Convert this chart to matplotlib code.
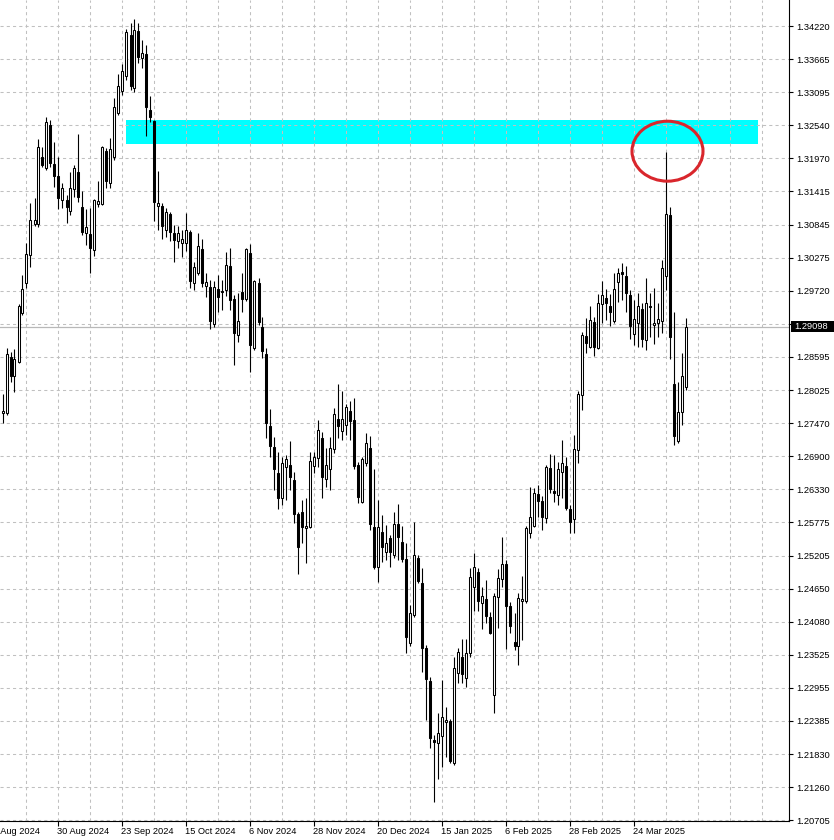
import numpy as np
import matplotlib
matplotlib.use('Agg')
import matplotlib.pyplot as plt
from matplotlib.patches import Ellipse, Rectangle
import matplotlib.transforms as mtransforms

# daily GBPUSD-style candles (12 Aug 2024 .. 10 Apr 2025)
opens = [1.2764, 1.2764, 1.2859, 1.2827, 1.2850, 1.2934, 1.2985, 1.3032, 1.3085, 1.3085,
         1.3199, 1.3180, 1.3254, 1.3187, 1.3167, 1.3126, 1.3126, 1.3107, 1.3145, 1.3174,
         1.3114, 1.3070, 1.3068, 1.3041, 1.3119, 1.3119, 1.3209, 1.3155, 1.3199, 1.3274,
         1.3311, 1.3337, 1.3407, 1.3317, 1.3414, 1.3368, 1.3374, 1.3279, 1.3260, 1.3116,
         1.3116, 1.3075, 1.3102, 1.3070, 1.3056, 1.3053, 1.3053, 1.3072, 1.2985, 1.3002,
         1.3043, 1.2980, 1.2978, 1.2915, 1.2975, 1.2971, 1.2973, 1.3014, 1.2958, 1.2896,
         1.2969, 1.2958, 1.3036, 1.2874, 1.2985, 1.2910, 1.2864, 1.2741, 1.2706, 1.2661,
         1.2619, 1.2672, 1.2675, 1.2650, 1.2592, 1.2595, 1.2568, 1.2570, 1.2673, 1.2687,
         1.2721, 1.2651, 1.2668, 1.2702, 1.2753, 1.2733, 1.2743, 1.2767, 1.2752, 1.2675,
         1.2612, 1.2678, 1.2704, 1.2570, 1.2502, 1.2561, 1.2527, 1.2551, 1.2522, 1.2575,
         1.2544, 1.2515, 1.2372, 1.2420, 1.2517, 1.2474, 1.2364, 1.2307, 1.2207, 1.2202,
         1.2214, 1.2238, 1.2239, 1.2168, 1.2321, 1.2348, 1.2313, 1.2355, 1.2467, 1.2493,
         1.2440, 1.2447, 1.2416, 1.2284, 1.2450, 1.2481, 1.2507, 1.2435, 1.2374, 1.2367,
         1.2444, 1.2444, 1.2559, 1.2571, 1.2626, 1.2614, 1.2585, 1.2670, 1.2631, 1.2624,
         1.2663, 1.2673, 1.2600, 1.2583, 1.2701, 1.2794, 1.2895, 1.2876, 1.2918, 1.2874,
         1.2949, 1.2959, 1.2946, 1.2920, 1.2986, 1.3003, 1.2997, 1.2964, 1.2898, 1.2917,
         1.2941, 1.2888, 1.2946, 1.2913, 1.2917, 1.2920, 1.2997, 1.3100, 1.2813, 1.2716,
         1.2765, 1.2808]
highs = [1.2796, 1.2874, 1.2867, 1.2872, 1.2949, 1.2998, 1.3053, 1.3121, 1.3129, 1.3230,
         1.3216, 1.3267, 1.3262, 1.3225, 1.3199, 1.3155, 1.3135, 1.3174, 1.3186, 1.3238,
         1.3141, 1.3111, 1.3112, 1.3128, 1.3158, 1.3218, 1.3215, 1.3232, 1.3300, 1.3340,
         1.3357, 1.3417, 1.3427, 1.3434, 1.3427, 1.3398, 1.3390, 1.3303, 1.3262, 1.3175,
         1.3121, 1.3112, 1.3106, 1.3083, 1.3082, 1.3075, 1.3104, 1.3075, 1.3021, 1.3070,
         1.3060, 1.3002, 1.2990, 1.2988, 1.2998, 1.2990, 1.3038, 1.3044, 1.2964, 1.2968,
         1.3002, 1.3044, 1.3051, 1.2990, 1.2993, 1.2927, 1.2874, 1.2770, 1.2723, 1.2697,
         1.2689, 1.2692, 1.2716, 1.2663, 1.2595, 1.2616, 1.2619, 1.2697, 1.2697, 1.2752,
         1.2731, 1.2704, 1.2723, 1.2772, 1.2813, 1.2801, 1.2779, 1.2784, 1.2789, 1.2680,
         1.2689, 1.2730, 1.2724, 1.2668, 1.2616, 1.2590, 1.2573, 1.2556, 1.2595, 1.2609,
         1.2571, 1.2542, 1.2437, 1.2578, 1.2522, 1.2500, 1.2369, 1.2314, 1.2216, 1.2253,
         1.2309, 1.2263, 1.2243, 1.2348, 1.2364, 1.2379, 1.2379, 1.2500, 1.2525, 1.2500,
         1.2467, 1.2479, 1.2425, 1.2457, 1.2498, 1.2553, 1.2513, 1.2442, 1.2423, 1.2457,
         1.2486, 1.2571, 1.2638, 1.2636, 1.2641, 1.2622, 1.2675, 1.2694, 1.2692, 1.2680,
         1.2718, 1.2689, 1.2607, 1.2726, 1.2801, 1.2901, 1.2925, 1.2946, 1.2927, 1.2966,
         1.2988, 1.2975, 1.2966, 1.3002, 1.3010, 1.3019, 1.3014, 1.2973, 1.2956, 1.2968,
         1.2951, 1.2993, 1.2968, 1.2976, 1.2951, 1.3024, 1.3208, 1.3114, 1.2935, 1.2816,
         1.2866, 1.2925]
lows = [1.2747, 1.2760, 1.2816, 1.2799, 1.2849, 1.2930, 1.2976, 1.3012, 1.3082, 1.3080,
        1.3182, 1.3177, 1.3182, 1.3148, 1.3111, 1.3112, 1.3087, 1.3100, 1.3131, 1.3123,
        1.3066, 1.3049, 1.3002, 1.3031, 1.3114, 1.3118, 1.3146, 1.3146, 1.3194, 1.3271,
        1.3305, 1.3330, 1.3313, 1.3310, 1.3359, 1.3351, 1.3235, 1.3259, 1.3090, 1.3075,
        1.3060, 1.3063, 1.3056, 1.3021, 1.3044, 1.3029, 1.3039, 1.2976, 1.2973, 1.2998,
        1.2978, 1.2961, 1.2907, 1.2910, 1.2935, 1.2939, 1.2963, 1.2939, 1.2845, 1.2884,
        1.2935, 1.2954, 1.2833, 1.2871, 1.2913, 1.2857, 1.2721, 1.2689, 1.2633, 1.2600,
        1.2607, 1.2616, 1.2633, 1.2576, 1.2490, 1.2542, 1.2508, 1.2568, 1.2661, 1.2672,
        1.2619, 1.2638, 1.2633, 1.2695, 1.2721, 1.2718, 1.2726, 1.2718, 1.2668, 1.2610,
        1.2610, 1.2673, 1.2564, 1.2498, 1.2476, 1.2510, 1.2513, 1.2502, 1.2517, 1.2513,
        1.2510, 1.2355, 1.2367, 1.2416, 1.2474, 1.2323, 1.2241, 1.2193, 1.2101, 1.2141,
        1.2161, 1.2178, 1.2168, 1.2164, 1.2304, 1.2304, 1.2297, 1.2348, 1.2427, 1.2427,
        1.2396, 1.2406, 1.2387, 1.2253, 1.2398, 1.2467, 1.2362, 1.2389, 1.2360, 1.2335,
        1.2377, 1.2440, 1.2551, 1.2570, 1.2587, 1.2564, 1.2576, 1.2627, 1.2612, 1.2607,
        1.2619, 1.2598, 1.2559, 1.2559, 1.2678, 1.2769, 1.2866, 1.2874, 1.2861, 1.2872,
        1.2917, 1.2922, 1.2912, 1.2917, 1.2952, 1.2956, 1.2935, 1.2889, 1.2879, 1.2876,
        1.2876, 1.2871, 1.2893, 1.2881, 1.2893, 1.2900, 1.2973, 1.2855, 1.2709, 1.2712,
        1.2743, 1.2803]
closes = [1.2767, 1.2864, 1.2827, 1.2855, 1.2946, 1.2975, 1.3034, 1.3092, 1.3092, 1.3216,
          1.3186, 1.3259, 1.3189, 1.3167, 1.3129, 1.3146, 1.3114, 1.3146, 1.3180, 1.3131,
          1.3072, 1.3080, 1.3044, 1.3126, 1.3124, 1.3216, 1.3158, 1.3213, 1.3284, 1.3320,
          1.3346, 1.3412, 1.3320, 1.3415, 1.3369, 1.3376, 1.3284, 1.3267, 1.3123, 1.3121,
          1.3082, 1.3106, 1.3072, 1.3058, 1.3070, 1.3060, 1.3075, 1.2988, 1.3012, 1.3048,
          1.2985, 1.2986, 1.2920, 1.2978, 1.2961, 1.2969, 1.3015, 1.2956, 1.2900, 1.2920,
          1.2958, 1.3043, 1.2879, 1.2988, 1.2918, 1.2869, 1.2747, 1.2707, 1.2668, 1.2619,
          1.2678, 1.2685, 1.2655, 1.2592, 1.2536, 1.2570, 1.2571, 1.2682, 1.2689, 1.2735,
          1.2655, 1.2675, 1.2704, 1.2762, 1.2741, 1.2753, 1.2774, 1.2750, 1.2673, 1.2621,
          1.2685, 1.2713, 1.2575, 1.2502, 1.2570, 1.2536, 1.2542, 1.2527, 1.2575, 1.2553,
          1.2515, 1.2382, 1.2423, 1.2522, 1.2478, 1.2364, 1.2311, 1.2210, 1.2204, 1.2219,
          1.2246, 1.2241, 1.2171, 1.2330, 1.2357, 1.2319, 1.2355, 1.2484, 1.2502, 1.2444,
          1.2452, 1.2418, 1.2389, 1.2452, 1.2483, 1.2507, 1.2435, 1.2401, 1.2367, 1.2449,
          1.2447, 1.2568, 1.2587, 1.2627, 1.2614, 1.2587, 1.2672, 1.2634, 1.2627, 1.2668,
          1.2678, 1.2602, 1.2578, 1.2702, 1.2796, 1.2896, 1.2883, 1.2922, 1.2876, 1.2951,
          1.2964, 1.2951, 1.2935, 1.2975, 1.3002, 1.3000, 1.2968, 1.2912, 1.2924, 1.2946,
          1.2889, 1.2951, 1.2944, 1.2917, 1.2924, 1.3010, 1.3102, 1.2893, 1.2724, 1.2765,
          1.2827, 1.2910]

# bar index of each date label (first one is cut off at the left edge)
date_idx = [-2, 14, 30, 46, 62, 78, 94, 110, 126, 142, 158]
date_labels = ['8 Aug 2024', '30 Aug 2024', '23 Sep 2024', '15 Oct 2024', '6 Nov 2024',
               '28 Nov 2024', '20 Dec 2024', '15 Jan 2025', '6 Feb 2025', '28 Feb 2025',
               '24 Mar 2025']
price_labels = ['1.20705', '1.21260', '1.21830', '1.22385', '1.22955', '1.23525', '1.24080',
                '1.24650', '1.25205', '1.25775', '1.26330', '1.26900', '1.27470', '1.28025',
                '1.28595', '1.29150', '1.29720', '1.30275', '1.30845', '1.31415', '1.31970',
                '1.32540', '1.33095', '1.33665', '1.34220']
last_price = 1.29098
zone_bars = (30.9, 188.9)
zone_prices = (1.32213, 1.32621)
circle_center = (166.25, 1.3209)

W, H = 834, 840
fig = plt.figure(figsize=(W / 100, H / 100), dpi=100)
fig.patch.set_facecolor('white')
ax = fig.add_axes([0, 19 / H, 789 / W, 821 / H])
ax.set_xlim(-0.625, 196.625)
ax.set_ylim(1.20692, 1.34663)

for s in ['left', 'top']:
    ax.spines[s].set_visible(False)
for s in ['right', 'bottom']:
    ax.spines[s].set_color('black')
    ax.spines[s].set_linewidth(0.8)

# grid
ytick_pos = np.linspace(1.20705, 1.34220, len(price_labels))
for y in ytick_pos:
    ax.axhline(y, color='#c0c0c0', lw=0.75, ls=(0, (3, 3)), zorder=0.8)
for i in range(6, 197, 8):
    ax.axvline(i, color='#c0c0c0', lw=0.75, ls=(0, (3, 3)), zorder=0.8)

ax.axhline(last_price, color='#b8b8b8', lw=0.9, zorder=0.9)

# resistance zone
ax.add_patch(Rectangle((zone_bars[0], zone_prices[0]), zone_bars[1] - zone_bars[0],
                       zone_prices[1] - zone_prices[0], facecolor='#00ffff',
                       edgecolor='none', zorder=0.5))

# candles
o = np.array(opens)
h = np.array(highs)
l = np.array(lows)
c = np.array(closes)
x = np.arange(len(o))
bull = c >= o
ax.vlines(x, l, h, color='black', lw=0.8, zorder=2)
ax.bar(x, np.abs(c - o), bottom=np.minimum(o, c), width=0.5,
       color=np.where(bull, 'white', 'black'), edgecolor='black', linewidth=0.75, zorder=3)

ax.add_patch(Ellipse(circle_center, 17.75, 0.0102, fill=False, edgecolor='#d9262c',
                     lw=2.2, zorder=5))

# axes ticks and labels
ax.yaxis.tick_right()
ax.set_yticks(ytick_pos)
ax.set_yticklabels(price_labels, fontsize=6.7, family='Liberation Sans')
ax.tick_params(axis='y', direction='out', length=3, width=0.8, pad=2)
ax.set_xticks(date_idx[1:])
ax.set_xticklabels([])
ax.tick_params(axis='x', direction='out', length=3.5, width=0.8)
for idx, lab in zip(date_idx, date_labels):
    ax.text(idx - 0.3, -0.0125, lab, transform=ax.get_xaxis_transform(), ha='left',
            va='center', fontsize=6.7, family='Liberation Sans', clip_on=False)

# current price box
fig.patches.append(Rectangle((791 / W, (H - 332) / H), 43 / W, 11.5 / H, facecolor='black',
                             edgecolor='none', transform=fig.transFigure, zorder=5))
fig.text(794 / W, (H - 326.5) / H, '1.29098', color='white', fontsize=6.7,
         family='Liberation Sans', va='center', ha='left', zorder=6)

fig.savefig('out.png', dpi=100)
